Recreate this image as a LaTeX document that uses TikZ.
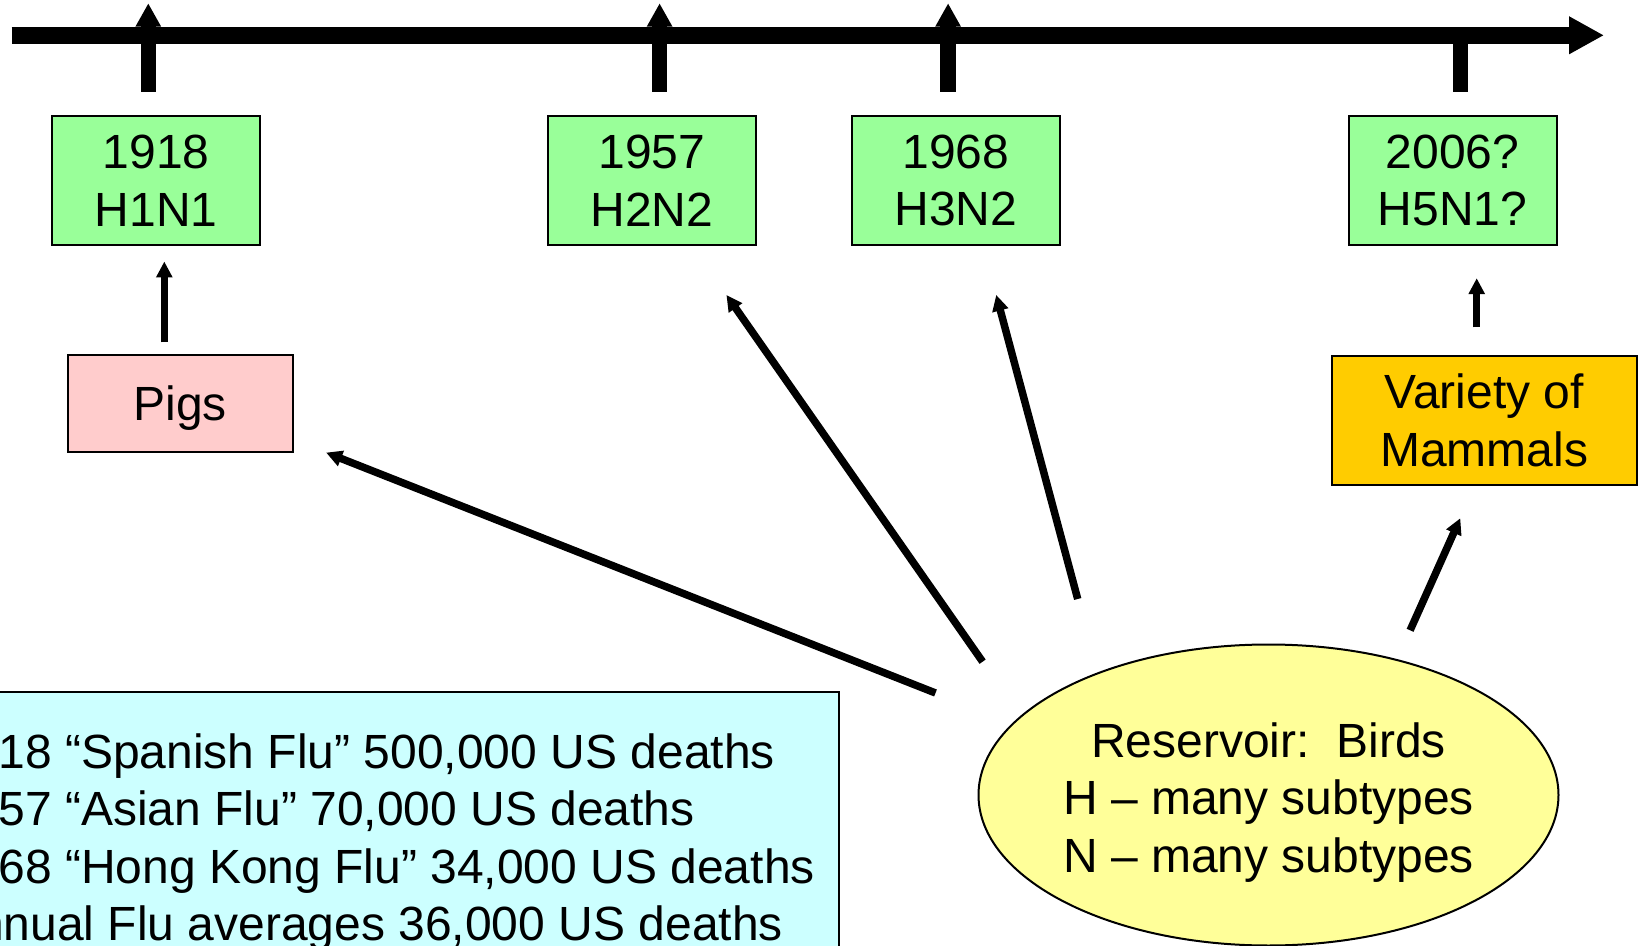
\documentclass[tikz,border=0pt]{standalone}
\usepackage{fontspec}
\setmainfont{Liberation Sans}
\usetikzlibrary{arrows.meta,shapes.geometric}
\definecolor{yeargreen}{HTML}{99FF99}
\definecolor{pigpink}{HTML}{FFCCCC}
\definecolor{mammalgold}{HTML}{FFCC00}
\definecolor{birdyellow}{HTML}{FFFF99}
\definecolor{deathcyan}{HTML}{CCFFFF}
\begin{document}
\begin{tikzpicture}[x=0.5pt,y=-0.5pt,font=\fontsize{24}{28.75}\selectfont,
	year/.style={draw,line width=1pt,fill=yeargreen,minimum width=104pt,minimum height=64.3pt,align=center,inner sep=0pt},
	host/.style={draw,line width=1pt,inner sep=0pt},
	flow/.style={line width=3.75pt,-{Triangle[length=8pt,width=7.8pt]}},
	tick/.style={line width=7.75pt}]
		\def\ytop{3.3} \def\ybot{91.7} \def\ymid{35.3}
		\useasboundingbox (0,0) rectangle (1639,946);
		\clip (0,0) rectangle (1639,946);
		% timeline
		\coordinate (tl) at (11.5,\ymid);
		\coordinate (tr) at (1604,\ymid);
		\draw[line width=8.65pt,-{Triangle[length=17.5pt,width=17.7pt]}] (tl)--(tr);
		\foreach \x in {148.3,659.6,948.1}
			\draw[tick,-{Triangle[length=11.7pt,width=12pt]}] (\x,\ybot)--(\x,\ytop);
		\draw[tick] (1460.3,\ybot)--(1460.3,\ymid);
		% pandemic years
		\node[year] (b1918) at (156.3,180.5) {1918\\H1N1};
		\node[year] (b1957) at (651.7,180.5) {1957\\H2N2};
		\node[year] (b1968) at (956,180.5) {1968\\H3N2};
		\node[year] (b2006) at (1452.5,180.5) {2006?\\H5N1?};
		% hosts
		\node[host,fill=pigpink,minimum width=112.4pt,minimum height=48.1pt,text depth=0pt] (pigs) at (180.3,403.5) {Pigs};
		\node[host,align=center,fill=mammalgold,minimum width=152.7pt,minimum height=64.3pt] (mammals) at (1484.3,420.5) {Variety of\\Mammals};
		\node[ellipse,draw,line width=1pt,fill=birdyellow,minimum width=290pt,minimum height=150.5pt] (birds) at (1268.5,795) {};
		\node[align=center,inner sep=0pt] (birdstext) at ([shift={(0,7.3)}]birds.center) {Reservoir:\ \ Birds\\H -- many subtypes\\N -- many subtypes};
		\node[anchor=north west,draw,line width=1pt,fill=deathcyan,align=left,inner xsep=12pt,inner ysep=20.75pt] (deaths) at (-80,691) {1918 “Spanish Flu” 500,000 US deaths\\1957 “Asian Flu” 70,000 US deaths\\1968 “Hong Kong Flu” 34,000 US deaths\\Annual Flu averages 36,000 US deaths};
		% spread
		\draw[flow] ([shift={(-16,-12.1)}]pigs.north)--([shift={(8,15.7)}]b1918.south);
		\draw[flow] ([shift={(-333,-102)}]birds.center)--([shift={(32.4,0)}]pigs.south east);
		\draw[flow] ([shift={(-285.9,-133.3)}]birds.center)--([shift={(-30.3,49.1)}]b1957.south east);
		\draw[flow] ([shift={(-190.8,-196)}]birds.center)--([shift={(40.2,49.1)}]b1968.south);
		\draw[flow] ([shift={(141.6,-164.7)}]birds.center)--([shift={(-24,32.4)}]mammals.south);
		\draw[flow] ([shift={(-7.6,-27.7)}]mammals.north)--([shift={(24.2,32.4)}]b2006.south);
\end{tikzpicture}
\end{document}
